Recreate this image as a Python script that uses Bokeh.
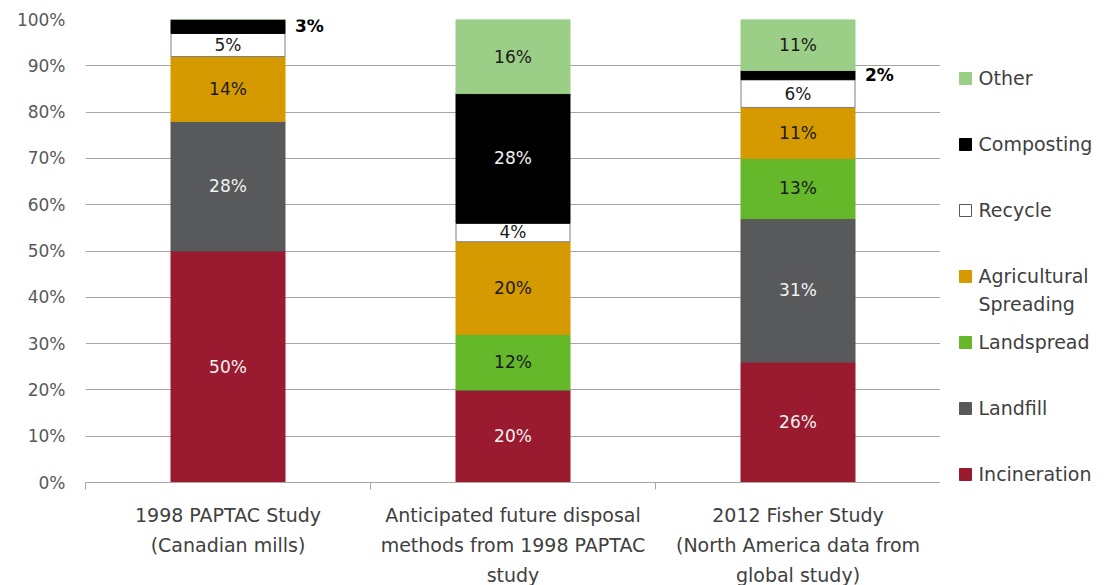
import numpy as np
from bokeh.plotting import figure
from bokeh.layouts import row
from bokeh.models import (ColumnDataSource, Range1d, FixedTicker, CustomJSTickFormatter,
                          PrintfTickFormatter)
from bokeh.embed import file_html
from bokeh.resources import INLINE
from bokeh.core.properties import value

# ---------------- data ----------------
categories = ["1998 PAPTAC Study\n(Canadian mills)",
              "Anticipated future disposal\nmethods from 1998 PAPTAC\nstudy",
              "2012 Fisher Study\n(North America data from\nglobal study)"]
series = ["Incineration", "Landfill", "Landspread", "Agricultural\nSpreading",
          "Recycle", "Composting", "Other"]
incineration = [50, 20, 26]
landfill = [28, 0, 31]
landspread = [0, 12, 13]
agricultural = [14, 20, 11]
recycle = [5, 4, 6]
composting = [3, 28, 2]
other = [0, 16, 11]
y_ticks = [0, 10, 20, 30, 40, 50, 60, 70, 80, 90, 100]

# ---------------- style ----------------
FONT = "DejaVu Sans"
fill_colors = ["#9A1A2F", "#58595B", "#64B82A", "#D59A00", "#FFFFFF", "#000000", "#9BCE87"]
line_colors = ["#9A1A2F", "#58595B", "#64B82A", "#D59A00", "#7F7F7F", "#000000", "#9BCE87"]
label_colors = ["#F2F2F2", "#F2F2F2", "#1A1A1A", "#1A1A1A", "#1A1A1A", "#F2F2F2", "#1A1A1A"]

values = [incineration, landfill, landspread, agricultural, recycle, composting, other]
keys = ["s%d" % i for i in range(len(series))]
xs = [i + 0.5 for i in range(len(categories))]

data = {"x": xs}
for k, v in zip(keys, values):
    data[k] = v
source = ColumnDataSource(data)

p = figure(frame_width=855, frame_height=463, x_range=Range1d(0, 3), y_range=Range1d(0, 100),
           output_backend="svg", toolbar_location=None,
           min_border_left=85, min_border_right=0, min_border_top=19, min_border_bottom=103)
p.outline_line_color = None
p.background_fill_color = "white"
p.border_fill_color = "white"

renderers = p.vbar_stack(keys, x="x", width=0.4, source=source,
                         fill_color=fill_colors, line_color=line_colors, line_width=1)

# segment labels
arr = np.array(values, dtype=float)
cum = np.cumsum(arr, axis=0)
mid = cum - arr / 2.0
in_x, in_y, in_t, in_c = [], [], [], []
out_x, out_y, out_t = [], [], []
for si in range(arr.shape[0]):
    for ci in range(arr.shape[1]):
        v = arr[si, ci]
        if v <= 0:
            continue
        if v < 4:
            out_x.append(xs[ci] + 0.2)
            out_y.append(mid[si, ci])
            out_t.append("%d%%" % v)
        else:
            in_x.append(xs[ci])
            in_y.append(mid[si, ci])
            in_t.append("%d%%" % v)
            in_c.append(label_colors[si])

p.text(x=in_x, y=in_y, text=in_t, text_color=in_c, text_align="center",
       text_baseline="middle", text_font=value(FONT), text_font_size="17px")
p.text(x=out_x, y=out_y, text=out_t, text_color="#000000", text_align="left",
       text_baseline="middle", text_font=value(FONT), text_font_size="17px",
       text_font_style="bold", x_offset=10)

# axes
p.xgrid.visible = False
p.ygrid.ticker = FixedTicker(ticks=y_ticks)
p.ygrid.grid_line_color = "#A6A6A6"
p.ygrid.grid_line_width = 1

p.yaxis.ticker = FixedTicker(ticks=y_ticks)
p.yaxis.formatter = PrintfTickFormatter(format="%d%%")
p.yaxis.axis_line_color = None
p.yaxis.major_tick_line_color = None
p.yaxis.major_tick_out = 0
p.yaxis.minor_tick_line_color = None
p.yaxis.major_label_text_font = FONT
p.yaxis.major_label_text_font_size = "17px"
p.yaxis.major_label_text_color = "#595959"
p.yaxis.major_label_standoff = 20

p.xaxis.ticker = FixedTicker(ticks=xs, minor_ticks=list(range(len(categories) + 1)))
p.xaxis.formatter = CustomJSTickFormatter(args=dict(labels=categories),
                                          code="return labels[Math.floor(tick)];")
p.xaxis.axis_line_color = "#A6A6A6"
p.xaxis.major_tick_line_color = None
p.xaxis.major_tick_out = 0
p.xaxis.minor_tick_line_color = "#A6A6A6"
p.xaxis.minor_tick_out = 7
p.xaxis.minor_tick_in = 0
p.xaxis.major_label_text_font = FONT
p.xaxis.major_label_text_font_size = "19px"
p.xaxis.major_label_text_line_height = 1.37
p.xaxis.major_label_text_color = "#404040"
p.xaxis.major_label_standoff = 14

# ---------------- legend (separate panel, page-pixel coordinates) ----------------
leg = figure(width=166, height=585, frame_width=166, frame_height=463,
             x_range=Range1d(0, 166), y_range=Range1d(482, 19),
             output_backend="svg", toolbar_location=None,
             min_border_left=0, min_border_right=0, min_border_top=19, min_border_bottom=103)
leg.axis.visible = False
leg.grid.visible = False
leg.outline_line_color = None
leg.border_fill_color = "white"
leg.background_fill_color = "white"

order = list(reversed(range(len(series))))
row_y = [78 + 66 * k for k in range(len(order))]
leg.scatter(x=[25] * len(order), y=row_y, marker="square", size=12,
            fill_color=[fill_colors[i] for i in order],
            line_color=[line_colors[i] if fill_colors[i] != "#FFFFFF" else "#595959" for i in order],
            line_width=1)
leg.text(x=[38] * len(order), y=[yy - 12 for yy in row_y], text=[series[i] for i in order],
         text_color="#404040", text_align="left", text_baseline="top",
         text_font=value(FONT), text_font_size="19px", text_line_height=1.3)

layout = row(p, leg, spacing=0)
open("out.html", "w").write(file_html(layout, INLINE))
